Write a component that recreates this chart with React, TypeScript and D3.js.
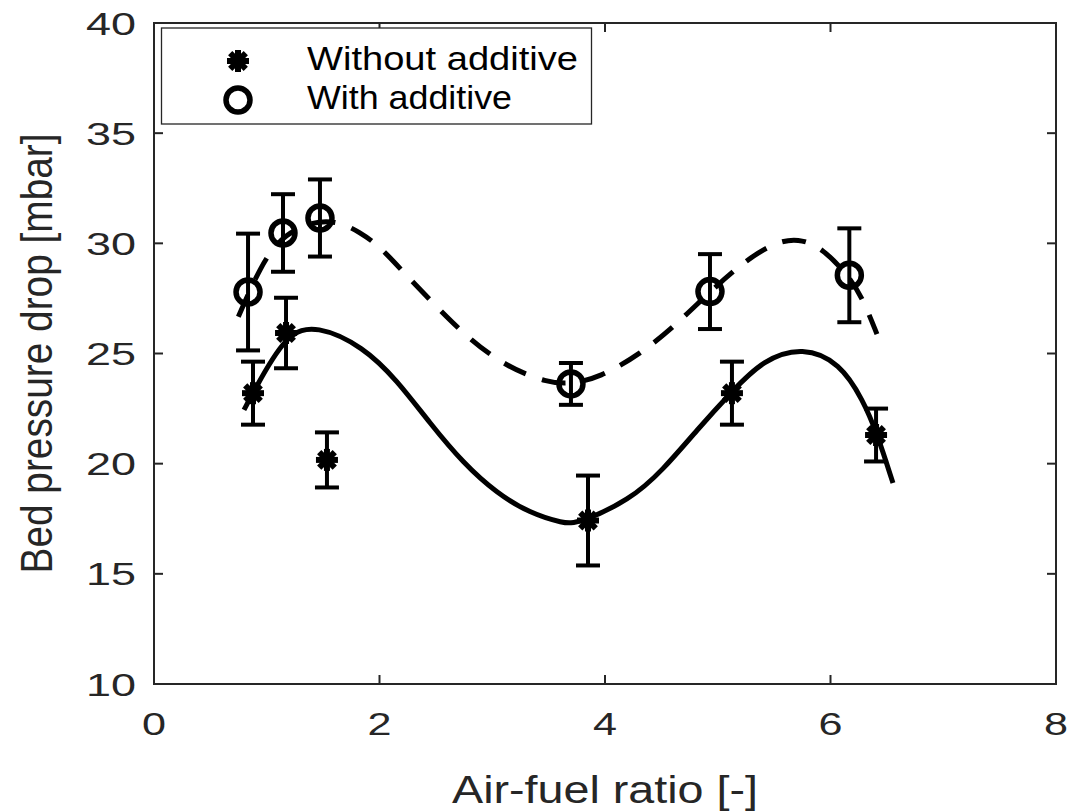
import * as d3 from "d3";

const xTicks = [0, 2, 4, 6, 8];
const yTicks = [10, 15, 20, 25, 30, 35, 40];

// measured points, without additive
const withoutX = [0.878, 1.171, 1.534, 3.849, 5.126, 6.404];
const withoutY = [23.2, 25.93, 20.17, 17.42, 23.2, 21.3];
const withoutErr = [1.43, 1.6, 1.25, 2.04, 1.43, 1.2];

// measured points, with additive
const withX = [0.834, 1.144, 1.472, 3.698, 4.931, 6.167];
const withY = [27.79, 30.47, 31.15, 23.62, 27.81, 28.55];
const withErr = [2.65, 1.76, 1.75, 0.95, 1.7, 2.13];

// fitted curves
const fitWithoutX = [0.798, 0.878, 1.171, 1.443, 1.856, 2.153, 2.448, 2.743, 3.039, 3.335, 3.63, 3.76, 4.222, 4.514, 4.816, 5.124, 5.401, 5.756, 6.084, 6.288, 6.412, 6.554];
const fitWithoutY = [22.44, 23.21, 25.93, 26.3, 25.31, 23.8, 21.83, 20.02, 18.66, 17.75, 17.29, 17.28, 18.35, 19.71, 21.53, 23.27, 24.71, 25.31, 24.57, 22.89, 21.39, 19.12];

const fitWithX = [0.748, 0.94, 1.144, 1.543, 1.842, 2.02, 2.217, 2.499, 2.791, 3.125, 3.49, 3.698, 3.947, 4.318, 4.636, 4.931, 5.237, 5.508, 5.714, 5.922, 6.167, 6.291, 6.412];
const fitWithY = [26.67, 28.93, 30.47, 31.24, 30.48, 29.77, 28.66, 27.16, 25.67, 24.4, 23.67, 23.62, 23.89, 24.99, 26.33, 27.81, 29.19, 30.05, 30.23, 29.82, 28.49, 27.43, 25.88];

const width = 1068;
const height = 812;
const margin = { top: 23, right: 12, bottom: 128, left: 154 };
const axisColor = "#262626";
const font = "'Liberation Sans', Arial, Helvetica, sans-serif";

function Asterisk({ cx, cy }: { cx: number; cy: number }) {
  const r = 11;
  const d = r * Math.SQRT1_2;
  return (
    <g stroke="#000" strokeWidth={6}>
      <line x1={cx - r} y1={cy} x2={cx + r} y2={cy} />
      <line x1={cx} y1={cy - r} x2={cx} y2={cy + r} />
      <line x1={cx - d} y1={cy - d} x2={cx + d} y2={cy + d} />
      <line x1={cx - d} y1={cy + d} x2={cx + d} y2={cy - d} />
    </g>
  );
}

function Ring({ cx, cy }: { cx: number; cy: number }) {
  return <circle cx={cx} cy={cy} r={12} fill="none" stroke="#000" strokeWidth={5.5} />;
}

export default function App() {
  const x = d3.scaleLinear().domain([0, 8]).range([margin.left, width - margin.right]);
  const y = d3.scaleLinear().domain([10, 40]).range([height - margin.bottom, margin.top]);

  const x0 = x.range()[0];
  const x1 = x.range()[1];
  const y0 = y.range()[0];
  const y1 = y.range()[1];

  const line = d3
    .line<[number, number]>()
    .x(d => x(d[0]))
    .y(d => y(d[1]))
    .curve(d3.curveBasis);

  const solidPath = line(fitWithoutX.map((v, i) => [v, fitWithoutY[i]]));
  const dashPath = line(fitWithX.map((v, i) => [v, fitWithY[i]]));

  const tick = 9;
  const cap = 12;

  const errorBars = (xs: number[], ys: number[], es: number[]) =>
    xs.map((v, i) => {
      const cx = x(v);
      const top = y(ys[i] + es[i]);
      const bot = y(ys[i] - es[i]);
      return (
        <g key={i} stroke="#000" strokeWidth={4}>
          <line x1={cx} x2={cx} y1={top} y2={bot} />
          <line x1={cx - cap} x2={cx + cap} y1={top} y2={top} />
          <line x1={cx - cap} x2={cx + cap} y1={bot} y2={bot} />
        </g>
      );
    });

  return (
    <svg
      width={width}
      height={height}
      style={{ position: "absolute", left: 0, top: 0, background: "#fff" }}
      fontFamily={font}
    >
      <rect x={0} y={0} width={width} height={height} fill="#fff" />

      {/* ticks on all four sides */}
      {xTicks.map(t => (
        <g key={"xt" + t} stroke={axisColor} strokeWidth={2}>
          <line x1={x(t)} x2={x(t)} y1={y0} y2={y0 - tick} />
          <line x1={x(t)} x2={x(t)} y1={y1} y2={y1 + tick} />
        </g>
      ))}
      {yTicks.map(t => (
        <g key={"yt" + t} stroke={axisColor} strokeWidth={2}>
          <line x1={x0} x2={x0 + tick} y1={y(t)} y2={y(t)} />
          <line x1={x1} x2={x1 - tick} y1={y(t)} y2={y(t)} />
        </g>
      ))}
      <rect x={x0} y={y1} width={x1 - x0} height={y0 - y1} fill="none" stroke={axisColor} strokeWidth={2} />

      {xTicks.map(t => (
        <text
          key={"xl" + t}
          x={x(t)}
          y={735}
          textAnchor="middle"
          fontSize={32}
          fill={axisColor}
          textLength={24}
          lengthAdjust="spacingAndGlyphs"
        >
          {t}
        </text>
      ))}
      {yTicks.map(t => (
        <text
          key={"yl" + t}
          x={136}
          y={y(t) + 11.5}
          textAnchor="end"
          fontSize={32}
          fill={axisColor}
          textLength={50}
          lengthAdjust="spacingAndGlyphs"
        >
          {t}
        </text>
      ))}

      <text
        x={(x0 + x1) / 2}
        y={803}
        textAnchor="middle"
        fontSize={38}
        fill={axisColor}
        textLength={306}
        lengthAdjust="spacingAndGlyphs"
      >
        Air-fuel ratio [-]
      </text>
      <text
        transform={`translate(52, ${(y0 + y1) / 2}) rotate(-90)`}
        textAnchor="middle"
        fontSize={44}
        fill={axisColor}
        textLength={440}
        lengthAdjust="spacingAndGlyphs"
      >
        Bed pressure drop [mbar]
      </text>

      {/* fitted curves */}
      <path d={solidPath ?? ""} fill="none" stroke="#000" strokeWidth={5} />
      <path d={dashPath ?? ""} fill="none" stroke="#000" strokeWidth={5} strokeDasharray="24 17" />

      {errorBars(withoutX, withoutY, withoutErr)}
      {errorBars(withX, withY, withErr)}

      {withoutX.map((v, i) => (
        <Asterisk key={"a" + i} cx={x(v)} cy={y(withoutY[i])} />
      ))}
      {withX.map((v, i) => (
        <Ring key={"r" + i} cx={x(v)} cy={y(withY[i])} />
      ))}

      {/* legend */}
      <rect x={161.5} y={28} width={430} height={96} fill="#fff" stroke={axisColor} strokeWidth={1.3} />
      <Asterisk cx={238} cy={61} />
      <Ring cx={238} cy={100} />
      <text x={307} y={70} fontSize={34} fill="#000" textLength={271} lengthAdjust="spacingAndGlyphs">
        Without additive
      </text>
      <text x={307} y={109} fontSize={34} fill="#000" textLength={205} lengthAdjust="spacingAndGlyphs">
        With additive
      </text>
    </svg>
  );
}
